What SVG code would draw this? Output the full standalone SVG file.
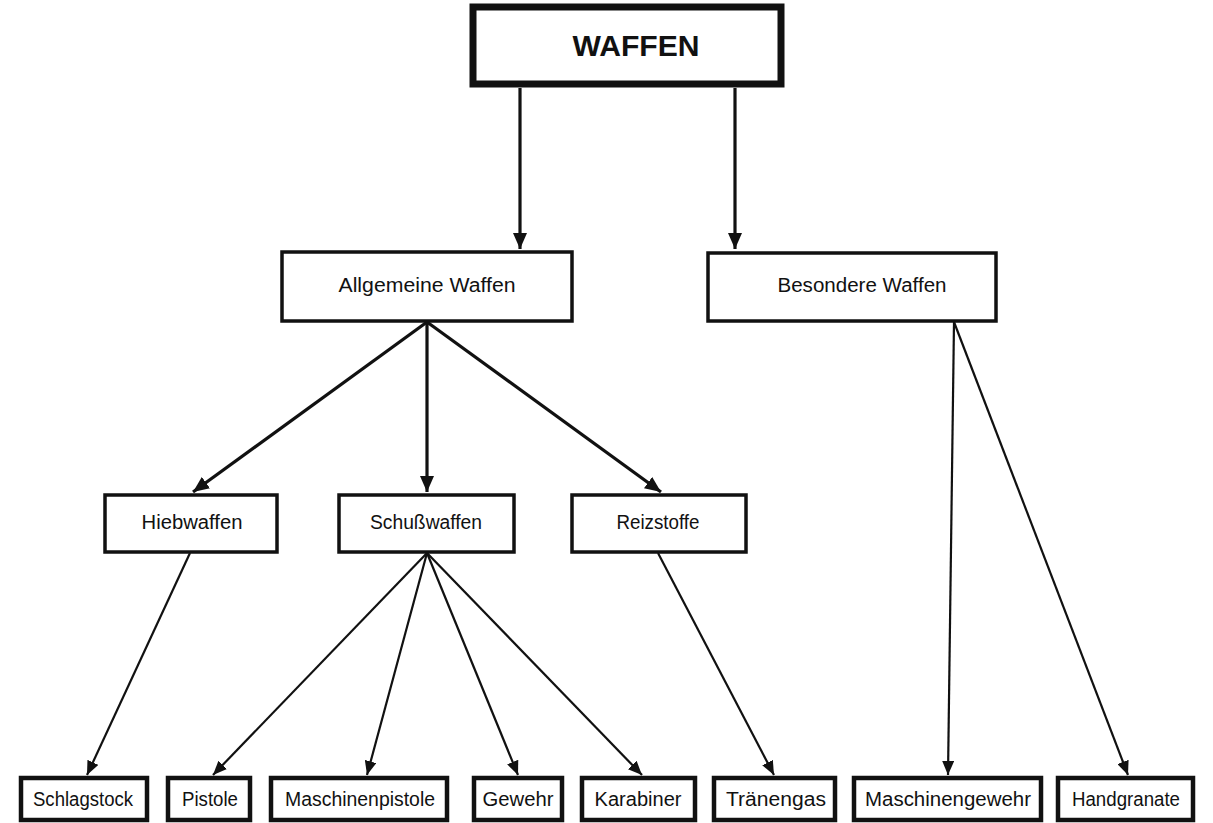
<svg xmlns="http://www.w3.org/2000/svg" width="1213" height="823" viewBox="0 0 1213 823">
  <style>
    .box { fill: #fff; stroke: #111; }
    .top { stroke-width: 7; }
    .mid { stroke-width: 3.5; }
    .leaf { stroke-width: 4.5; }
    .lbl { font-family: "Liberation Sans", Arial, sans-serif; font-size: 20px; fill: #111; text-anchor: middle; }
    .title { font-family: "Liberation Sans", Arial, sans-serif; font-size: 30px; font-weight: bold; fill: #111; text-anchor: middle; }
    .edge { fill: none; stroke: #111; }
    .thick { stroke-width: 3.2; }
    .thin { stroke-width: 2.2; }
  </style>
  <defs>
    <marker id="headBig" markerUnits="userSpaceOnUse" markerWidth="16" markerHeight="14" refX="16" refY="7" orient="auto">
      <path d="M0,0 L16,7 L0,14 z" fill="#111"/>
    </marker>
    <marker id="headSmall" markerUnits="userSpaceOnUse" markerWidth="14" markerHeight="12" refX="14" refY="6" orient="auto">
      <path d="M0,0 L14,6 L0,12 z" fill="#111"/>
    </marker>
  </defs>
  <rect width="1213" height="823" fill="#fff"/>

  <!-- connectors -->
  <g id="connectors">
    <line class="edge thick" x1="520" y1="88" x2="520" y2="249" marker-end="url(#headBig)"/>
    <line class="edge thick" x1="735" y1="88" x2="735" y2="249" marker-end="url(#headBig)"/>
    <line class="edge thick" x1="427" y1="322" x2="193" y2="492" marker-end="url(#headBig)"/>
    <line class="edge thick" x1="427" y1="322" x2="427" y2="492" marker-end="url(#headBig)"/>
    <line class="edge thick" x1="427" y1="322" x2="661" y2="492" marker-end="url(#headBig)"/>
    <line class="edge thin" x1="190" y1="553" x2="87" y2="775" marker-end="url(#headSmall)"/>
    <line class="edge thin" x1="427" y1="553" x2="213" y2="775" marker-end="url(#headSmall)"/>
    <line class="edge thin" x1="427" y1="553" x2="367" y2="775" marker-end="url(#headSmall)"/>
    <line class="edge thin" x1="427" y1="553" x2="518" y2="775" marker-end="url(#headSmall)"/>
    <line class="edge thin" x1="427" y1="553" x2="642" y2="775" marker-end="url(#headSmall)"/>
    <line class="edge thin" x1="658" y1="553" x2="774" y2="775" marker-end="url(#headSmall)"/>
    <line class="edge thin" x1="954" y1="322" x2="948" y2="775" marker-end="url(#headSmall)"/>
    <line class="edge thin" x1="954" y1="322" x2="1128" y2="775" marker-end="url(#headSmall)"/>
  </g>

  <!-- root -->
  <g id="waffen">
    <rect class="box top" x="473" y="7" width="308" height="77"/>
    <text class="title" x="636" y="56" textLength="127" lengthAdjust="spacingAndGlyphs">WAFFEN</text>
  </g>

  <!-- second level -->
  <g id="allgemeine">
    <rect class="box mid" x="282" y="252" width="290" height="69"/>
    <text class="lbl" x="427" y="292" textLength="177" lengthAdjust="spacingAndGlyphs">Allgemeine Waffen</text>
  </g>
  <g id="besondere">
    <rect class="box mid" x="708" y="253" width="288" height="68"/>
    <text class="lbl" x="862" y="292" textLength="169" lengthAdjust="spacingAndGlyphs">Besondere Waffen</text>
  </g>

  <!-- third level -->
  <g id="hiebwaffen">
    <rect class="box mid" x="105" y="495" width="172" height="57"/>
    <text class="lbl" x="192" y="529" textLength="101" lengthAdjust="spacingAndGlyphs">Hiebwaffen</text>
  </g>
  <g id="schusswaffen">
    <rect class="box mid" x="339" y="495" width="175" height="57"/>
    <text class="lbl" x="426" y="529" textLength="112" lengthAdjust="spacingAndGlyphs">Schußwaffen</text>
  </g>
  <g id="reizstoffe">
    <rect class="box mid" x="572" y="495" width="174" height="57"/>
    <text class="lbl" x="658" y="529" textLength="83" lengthAdjust="spacingAndGlyphs">Reizstoffe</text>
  </g>

  <!-- leaves -->
  <g id="schlagstock">
    <rect class="box leaf" x="21" y="778" width="126" height="42"/>
    <text class="lbl" x="83" y="806" textLength="100" lengthAdjust="spacingAndGlyphs">Schlagstock</text>
  </g>
  <g id="pistole">
    <rect class="box leaf" x="168" y="778" width="82" height="42"/>
    <text class="lbl" x="210" y="806" textLength="56" lengthAdjust="spacingAndGlyphs">Pistole</text>
  </g>
  <g id="maschinenpistole">
    <rect class="box leaf" x="271" y="778" width="176" height="42"/>
    <text class="lbl" x="360" y="806" textLength="150" lengthAdjust="spacingAndGlyphs">Maschinenpistole</text>
  </g>
  <g id="gewehr">
    <rect class="box leaf" x="474" y="778" width="88" height="42"/>
    <text class="lbl" x="518" y="806" textLength="71" lengthAdjust="spacingAndGlyphs">Gewehr</text>
  </g>
  <g id="karabiner">
    <rect class="box leaf" x="582" y="778" width="113" height="42"/>
    <text class="lbl" x="638" y="806" textLength="87" lengthAdjust="spacingAndGlyphs">Karabiner</text>
  </g>
  <g id="traenengas">
    <rect class="box leaf" x="714" y="778" width="121" height="42"/>
    <text class="lbl" x="776" y="806" textLength="100" lengthAdjust="spacingAndGlyphs">Tränengas</text>
  </g>
  <g id="maschinengewehr">
    <rect class="box leaf" x="854" y="778" width="187" height="42"/>
    <text class="lbl" x="948" y="806" textLength="166" lengthAdjust="spacingAndGlyphs">Maschinengewehr</text>
  </g>
  <g id="handgranate">
    <rect class="box leaf" x="1058" y="778" width="135" height="42"/>
    <text class="lbl" x="1126" y="806" textLength="108" lengthAdjust="spacingAndGlyphs">Handgranate</text>
  </g>
</svg>
